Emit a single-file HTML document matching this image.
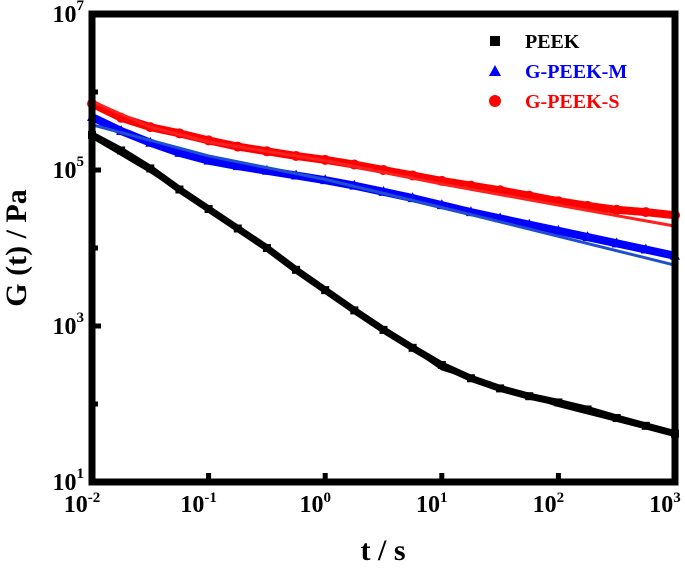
<!DOCTYPE html>
<html><head><meta charset="utf-8"><style>
body{margin:0;background:#fff}
svg{font-family:"Liberation Serif",serif;font-weight:bold}
</style></head><body>
<svg id="c" width="685" height="567" viewBox="0 0 685 567"></svg>
<script>
const tExp=[-2,-1.75,-1.5,-1.25,-1,-0.75,-0.5,-0.25,0,0.25,0.5,0.75,1,1.25,1.5,1.75,2,2.25,2.5,2.75,3];
const peek=[5.45,5.25,5.02,4.75,4.5,4.25,4.0,3.72,3.46,3.2,2.95,2.72,2.5,2.33,2.2,2.1,2.02,1.93,1.82,1.72,1.62];
const peekM=[5.68,5.5,5.35,5.22,5.12,5.05,4.99,4.93,4.87,4.8,4.72,4.64,4.55,4.46,4.38,4.3,4.22,4.14,4.06,3.98,3.9];
const peekS=[5.85,5.67,5.55,5.47,5.38,5.3,5.24,5.18,5.13,5.07,5.0,4.93,4.86,4.8,4.74,4.67,4.6,4.54,4.49,4.46,4.42];
const fitExp=[-2,-1.5,-1,0,1,2,3];
const fitP=[5.42,4.98,4.5,3.48,2.45,1.98,1.6];
const fitM=[5.58,5.38,5.18,4.88,4.52,4.15,3.78];
const fitS=[5.88,5.55,5.36,5.12,4.82,4.55,4.28];
const xTicks=[-2,-1,0,1,2,3];
const yTicks=[1,3,5,7];
const X0=92,X1=675,Y0=482,Y1=14;
const sx=e=>X0+(e+2)/5*(X1-X0);
const sy=e=>Y0-(e-1)/6*(Y0-Y1);
const svg=document.getElementById('c');
const NS='http://www.w3.org/2000/svg';
function mk(t,a,p){const e=document.createElementNS(NS,t);for(const k in a)e.setAttribute(k,a[k]);(p||svg).appendChild(e);return e;}
function series(vals,color,shape,name,w){
  const g=mk('g',{});
  
  
  mk('polyline',{points:tExp.map((e,i)=>sx(e)+','+sy(vals[i])).join(' '),fill:'none',stroke:color,'stroke-width':w,'stroke-linejoin':'round'},g);
  tExp.forEach((e,i)=>{
    const x=sx(e),y=sy(vals[i]);let m;
    if(shape==='sq')m=mk('rect',{x:x-4,y:y-4,width:8,height:8,fill:color},g);
    else if(shape==='tri')m=mk('polygon',{points:`${x},${y-6} ${x-5},${y+4} ${x+5},${y+4}`,fill:color},g);
    else m=mk('circle',{cx:x,cy:y,r:5,fill:color},g);
    
    
  });
}
function fit(vals,color,name){
  const l=mk('polyline',{points:fitExp.map((e,i)=>sx(e)+','+sy(vals[i])).join(' '),fill:'none',stroke:color,'stroke-width':3,'stroke-linejoin':'round'});
  
  
}
series(peek,'#000','sq','peek-series',7);
fit(fitP,'#000','peek-fit');
series(peekM,'#0000ff','tri','g-peek-m-series',8);
series(peekS,'#ff0000','circ','g-peek-s-series',8);
fit(fitM,'#1f4fd0','g-peek-m-fit');
fit(fitS,'#ff2020','g-peek-s-fit');
const fr=mk('rect',{x:X0,y:Y1,width:X1-X0,height:Y0-Y1,fill:'none',stroke:'#000','stroke-width':7});


xTicks.forEach(e=>{
  const x=sx(e);
  mk('line',{x1:x,y1:Y0,x2:x,y2:Y0-9,stroke:'#000','stroke-width':5});
  const t=mk('text',{x:x-10,y:Y0+30,'font-size':24,'text-anchor':'middle'});
  
  
  t.textContent='10';
  const s=mk('tspan',{'font-size':15,dy:-10},t);s.textContent=String(e);
});
yTicks.forEach(e=>{
  const y=sy(e);
  mk('line',{x1:X0,y1:y,x2:X0+9,y2:y,stroke:'#000','stroke-width':5});
  const t=mk('text',{x:X0-8,y:y+8,'font-size':24,'text-anchor':'end'});
  
  
  t.textContent='10';
  const s=mk('tspan',{'font-size':15,dy:-12},t);s.textContent=String(e);
});
[2,4,6].forEach(e=>{mk('line',{x1:X0,y1:sy(e),x2:X0+6,y2:sy(e),stroke:'#000','stroke-width':5});});
const xl=mk('text',{x:383,y:560,'font-size':30,'text-anchor':'middle'});


xl.textContent='t / s';
const yl=mk('text',{x:0,y:0,'font-size':30,'text-anchor':'middle',transform:'translate(26,248) rotate(-90)'});


yl.textContent='G (t) / Pa';
const leg=[['PEEK','#000','sq'],['G-PEEK-M','#0000ff','tri'],['G-PEEK-S','#ff0000','circ']];
leg.forEach((l,i)=>{
  const y=41+i*30,x=495;
  const g=mk('g',{});
  
  
  if(l[2]==='sq')mk('rect',{x:x-5,y:y-5,width:10,height:10,fill:l[1]},g);
  else if(l[2]==='tri')mk('polygon',{points:`${x},${y-6} ${x-6},${y+5} ${x+6},${y+5}`,fill:l[1]},g);
  else mk('circle',{cx:x,cy:y,r:6,fill:l[1]},g);
  const t=mk('text',{x:525,y:y+7,'font-size':20,fill:l[1]},g);t.textContent=l[0];
});
</script>
</body></html>
